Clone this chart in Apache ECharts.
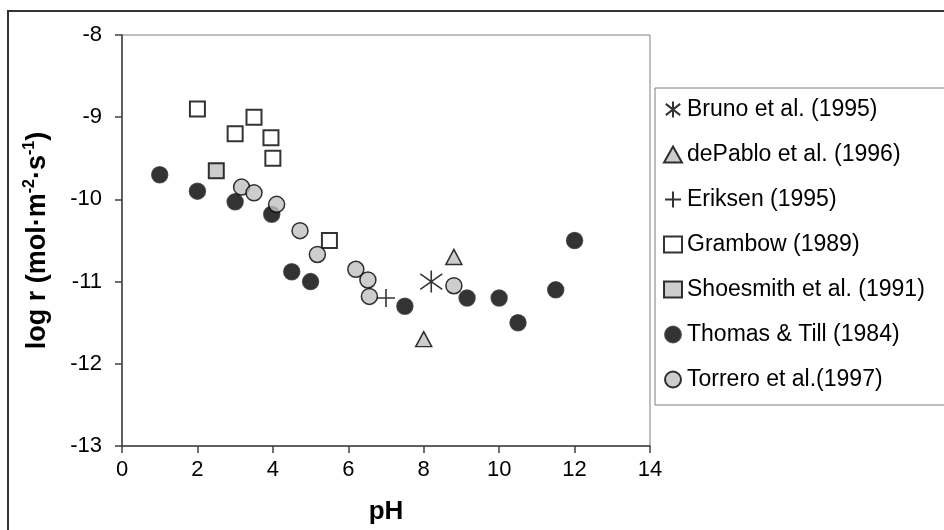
<!DOCTYPE html>
<html><head><meta charset="utf-8">
<script src="https://cdn.jsdelivr.net/npm/echarts@6/dist/echarts.min.js"></script>
<style>html,body{margin:0;padding:0;background:#fff}#c{width:944px;height:530px}</style>
</head><body><div id="c"></div>
<script>
// Data (pH, log r)
const seriesNames = ['Bruno et al. (1995)','dePablo et al. (1996)','Eriksen (1995)','Grambow (1989)','Shoesmith et al. (1991)','Thomas & Till (1984)','Torrero et al.(1997)'];
const bruno = [[8.2,-11.0]];
const dePablo = [[8.8,-10.7],[8.0,-11.7]];
const eriksen = [[7.0,-11.2]];
const grambow = [[2.0,-8.9],[3.0,-9.2],[3.5,-9.0],[3.95,-9.25],[4.0,-9.5],[5.5,-10.5]];
const shoesmith = [[2.5,-9.65]];
const thomas = [[1.0,-9.7],[2.0,-9.9],[3.0,-10.03],[3.97,-10.18],[4.5,-10.88],[5.0,-11.0],[7.5,-11.3],[9.15,-11.2],[10.0,-11.2],[10.5,-11.5],[11.5,-11.1],[12.0,-10.5]];
const torrero = [[3.17,-9.85],[3.5,-9.92],[4.1,-10.06],[4.72,-10.38],[5.18,-10.67],[6.2,-10.85],[6.52,-10.98],[6.56,-11.18],[8.8,-11.05]];
const xTicks = [0,2,4,6,8,10,12,14];
const yTicks = [-13,-12,-11,-10,-9,-8];

const FONT = '"Liberation Sans", Arial, sans-serif';
const asteriskPath = 'path://M10,0L10,20M1,3L19,17M19,3L1,17';
const plusPath = 'path://M0,10L20,10M10,0L10,20';

const chart = echarts.init(document.getElementById('c'), null, {renderer:'canvas'});
chart.setOption({
  animation:false,
  backgroundColor:'#fff',
  textStyle:{fontFamily:FONT},
  graphic:[{type:'rect', shape:{x:8,y:11,width:1100,height:700}, style:{fill:'none', stroke:'#333', lineWidth:2}, silent:true}],
  grid:{left:122, top:35, right:294, bottom:83, show:true, borderColor:'#808080', borderWidth:1, backgroundColor:'#fff'},
  xAxis:{type:'value', min:xTicks[0], max:xTicks[xTicks.length-1], interval:2,
    splitLine:{show:false},
    axisLine:{show:true, onZero:false, lineStyle:{color:'#404040', width:1.5}},
    axisTick:{show:true, length:7, inside:false, lineStyle:{color:'#404040', width:1.5}},
    axisLabel:{color:'#000', fontSize:22, margin:13, fontFamily:FONT},
    name:'pH', nameLocation:'middle', nameGap:53,
    nameTextStyle:{color:'#000', fontSize:26, fontWeight:'bold', fontFamily:FONT}
  },
  yAxis:{type:'value', min:yTicks[0], max:yTicks[yTicks.length-1], interval:1,
    splitLine:{show:false},
    axisLine:{show:true, onZero:false, lineStyle:{color:'#404040', width:1.5}},
    axisTick:{show:true, length:7, inside:false, lineStyle:{color:'#404040', width:1.5}},
    axisLabel:{color:'#000', fontSize:22, margin:20, fontFamily:FONT},
    name:'{a|log r (mol·m}{s|-2}{a|·s}{s|-1}{a|)}', nameLocation:'middle', nameGap:68, nameRotate:90,
    nameTextStyle:{color:'#000', fontFamily:FONT,
      rich:{a:{fontSize:27, fontWeight:'bold', color:'#000', fontFamily:FONT, lineHeight:32},
            s:{fontSize:16, fontWeight:'bold', color:'#000', fontFamily:FONT, verticalAlign:'top', lineHeight:32, padding:[0,0,16,0]}}}
  },
  legend:{orient:'vertical', left:655, top:88, padding:[10,40,14,8], itemGap:22,
    itemWidth:18, itemHeight:16, borderColor:'#808080', borderWidth:1, backgroundColor:'#fff',
    textStyle:{color:'#000', fontSize:23, fontFamily:FONT},
    data:seriesNames, selectedMode:false
  },
  series:[
    {name:seriesNames[0], type:'scatter', data:bruno, symbol:asteriskPath, symbolSize:22, z:3,
      itemStyle:{color:'rgba(0,0,0,0)', borderColor:'#000', borderWidth:1.6}},
    {name:seriesNames[1], type:'scatter', data:dePablo, symbol:'triangle', symbolSize:[16,15], z:3,
      itemStyle:{color:'#c0c0c0', borderColor:'#000', borderWidth:1.5}},
    {name:seriesNames[2], type:'scatter', data:eriksen, symbol:plusPath, symbolSize:18, z:3,
      itemStyle:{color:'rgba(0,0,0,0)', borderColor:'#000', borderWidth:1.6}},
    {name:seriesNames[3], type:'scatter', data:grambow, symbol:'rect', symbolSize:15, z:3,
      itemStyle:{color:'#fff', borderColor:'#000', borderWidth:2}},
    {name:seriesNames[4], type:'scatter', data:shoesmith, symbol:'rect', symbolSize:15, z:3,
      itemStyle:{color:'#c0c0c0', borderColor:'#000', borderWidth:2}},
    {name:seriesNames[5], type:'scatter', data:thomas, symbol:'circle', symbolSize:16, z:3,
      itemStyle:{color:'#000', borderColor:'#333', borderWidth:1.5}},
    {name:seriesNames[6], type:'scatter', data:torrero, symbol:'circle', symbolSize:16, z:3,
      itemStyle:{color:'#c0c0c0', borderColor:'#000', borderWidth:1.5}}
  ]
});
</script></body></html>
